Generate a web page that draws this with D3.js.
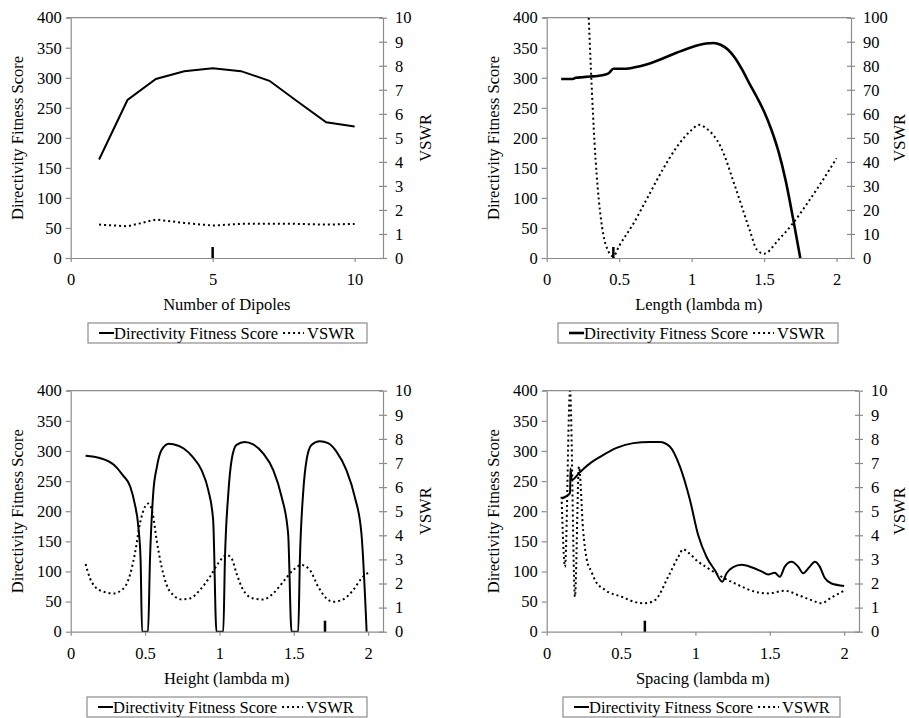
<!DOCTYPE html>
<html lang="en">
<head>
<meta charset="UTF-8">
<title>Directivity Fitness Score and VSWR</title>
<script src="https://cdnjs.cloudflare.com/ajax/libs/d3/7.8.5/d3.min.js"></script>
<style>
  body { margin: 0; background: #fff; }
  svg, svg text { font-family: "Liberation Serif", "DejaVu Serif", "Times New Roman", serif !important; fill: #000; }
  .axis path, .axis line { stroke: #8c8c8c; stroke-width: 1.2px; }
  .axis text { font-size: 16.5px; }
  .title { font-size: 16.5px; }
  .score { fill: none; stroke: #000; stroke-width: 2px; }
  .vswr { fill: none; stroke: #000; stroke-width: 2px; stroke-dasharray: 2, 3; }
  .frame { stroke: #8c8c8c; stroke-width: 1.2px; }
  .legend rect { fill: #fff; stroke: #8c8c8c; stroke-width: 1.2px; }
  .marker { stroke: #000; stroke-width: 2.5px; }
</style>
</head>
<body>
<svg id="chart" width="909" height="718"></svg>
<script>
// values
const dipoleCount = [1, 2, 3, 4, 5, 6, 7, 8, 9, 10];
const dipoleScore = [164, 263, 298, 311, 316, 311, 295, 260, 226, 219];
const dipoleVswr = [1.39, 1.32, 1.6, 1.46, 1.35, 1.42, 1.43, 1.42, 1.39, 1.42];

const lengthScoreX = [0.1, 0.15, 0.18, 0.2, 0.25, 0.3, 0.35, 0.4, 0.43, 0.46, 0.5, 0.55, 0.6, 0.7, 0.8, 0.9, 1.0, 1.1, 1.15, 1.2, 1.25, 1.3, 1.35, 1.4, 1.45, 1.5, 1.55, 1.6, 1.65, 1.7, 1.75];
const lengthScore = [298, 298, 298, 300, 301, 302, 303, 305, 308, 315, 315, 315, 317, 323, 332, 342, 351, 357, 358, 355, 347, 333, 313, 290, 268, 244, 214, 177, 128, 66, 0];
const lengthVswrX = [0.29, 0.31, 0.33, 0.36, 0.39, 0.42, 0.46, 0.5, 0.6, 0.7, 0.8, 0.9, 1.0, 1.05, 1.1, 1.2, 1.3, 1.4, 1.45, 1.5, 1.6, 1.7, 1.8, 1.9, 2.0];
const lengthVswr = [100, 72, 48, 24, 10, 3.5, 0.7, 5, 14.5, 25.6, 36.7, 46.4, 53.3, 55.4, 54, 46.4, 29.8, 11.8, 3.5, 1.8, 7.6, 14.5, 22.9, 31.9, 41.5];

const heightScoreX = [0.1, 0.2, 0.29, 0.35, 0.4, 0.43, 0.455, 0.47, 0.48,
  0.52, 0.533, 0.555, 0.58, 0.61, 0.66, 0.69, 0.76, 0.82, 0.88, 0.925, 0.958, 0.98,
  1.026, 1.037, 1.06, 1.082, 1.115, 1.17, 1.227, 1.294, 1.362, 1.418, 1.462, 1.485,
  1.53, 1.541, 1.563, 1.586, 1.619, 1.675, 1.731, 1.787, 1.854, 1.91, 1.955, 1.99];
const heightScore = [292, 288, 277, 260, 241, 213, 174, 119, 0,
  0, 119, 230, 274, 301, 312, 311, 304, 290, 268, 235, 185, 0,
  0, 119, 230, 285, 310, 315, 311, 296, 268, 224, 163, 0,
  0, 119, 230, 285, 310, 316, 313, 299, 268, 224, 163, 0];
const heightVswrX = [0.1, 0.13, 0.163, 0.22, 0.287, 0.343, 0.387, 0.432, 0.466, 0.5, 0.522, 0.551, 0.578, 0.611, 0.645, 0.69, 0.746, 0.802, 0.869, 0.936, 0.992, 1.048, 1.082, 1.115, 1.16, 1.227, 1.294, 1.362, 1.429, 1.496, 1.552, 1.608, 1.664, 1.72, 1.765, 1.832, 1.9, 1.955, 2.0];
const heightVswr = [2.81, 2.21, 1.87, 1.66, 1.59, 1.73, 2.14, 3.25, 4.5, 5.19, 5.32, 4.91, 3.8, 2.7, 1.94, 1.52, 1.34, 1.38, 1.73, 2.28, 2.84, 3.18, 3.04, 2.42, 1.73, 1.38, 1.34, 1.59, 2.07, 2.56, 2.77, 2.56, 1.87, 1.38, 1.24, 1.34, 1.73, 2.21, 2.45];

const spacingScoreX = [0.1, 0.157, 0.16, 0.168, 0.224, 0.3, 0.358, 0.47, 0.582, 0.694, 0.761, 0.829, 0.896, 0.963, 1.019, 1.075, 1.131, 1.18, 1.21, 1.254, 1.31, 1.377, 1.445, 1.489, 1.534, 1.568, 1.601, 1.646, 1.691, 1.724, 1.769, 1.803, 1.836, 1.87, 1.915, 2.0];
const spacingScore = [221, 230, 271, 252, 265, 281, 290, 305, 313, 315, 315, 307, 274, 219, 160, 124, 102, 83, 97, 107, 111, 107, 100, 95, 98, 91, 108, 116, 108, 97, 108, 116, 108, 89, 80, 76];
const spacingVswrX = [0.1, 0.123, 0.157, 0.19, 0.217, 0.245, 0.269, 0.3, 0.325, 0.392, 0.504, 0.616, 0.66, 0.728, 0.817, 0.885, 0.918, 0.952, 1.019, 1.086, 1.176, 1.288, 1.4, 1.489, 1.601, 1.691, 1.78, 1.848, 1.915, 2.0];
const spacingVswr = [5.6, 2.7, 10, 1.45, 6.85, 4.2, 3.0, 2.5, 2.14, 1.73, 1.45, 1.2, 1.18, 1.31, 2.28, 3.11, 3.42, 3.28, 2.9, 2.63, 2.28, 1.94, 1.66, 1.59, 1.7, 1.52, 1.31, 1.18, 1.42, 1.7];

// chosen design value marked on each x axis
const chosenValues = [5, 0.46, 1.71, 0.66];

const scoreTicks = d3.range(0, 401, 50);
const xTitles = ["Number of Dipoles", "Length (lambda m)", "Height (lambda m)", "Spacing (lambda m)"];
const leftTitle = "Directivity Fitness Score";
const rightTitle = "VSWR";
const legendLabels = ["Directivity Fitness Score", "VSWR"];

const zip = (xs, ys) => xs.map((x, i) => [x, ys[i]]);
const FONT = '"Liberation Serif", "DejaVu Serif", "Times New Roman", serif';

// layout of the four panels
const panels = [
  { left: 70.7, right: 383, top: 17.7, bottom: 258, xMax: 11, xTicks: [0, 5, 10], y2Max: 10,
    score: zip(dipoleCount, dipoleScore), vswr: zip(dipoleCount, dipoleVswr), curve: d3.curveLinear,
    legend: [88, 323, 279, 20], rightOff: 42, scoreWidth: 2 },
  { left: 546.7, right: 851, top: 17.7, bottom: 258, xMax: 2.1, xTicks: [0, 0.5, 1, 1.5, 2], y2Max: 100,
    score: zip(lengthScoreX, lengthScore), vswr: zip(lengthVswrX, lengthVswr), curve: d3.curveMonotoneX,
    legend: [558, 323, 280, 20], rightOff: 48, scoreWidth: 2.6 },
  { left: 70.7, right: 383, top: 390.7, bottom: 631.7, xMax: 2.1, xTicks: [0, 0.5, 1, 1.5, 2], y2Max: 10,
    score: zip(heightScoreX, heightScore), vswr: zip(heightVswrX, heightVswr), curve: d3.curveMonotoneX,
    legend: [87, 697, 280, 20], rightOff: 42, scoreWidth: 2 },
  { left: 546.7, right: 859, top: 390.7, bottom: 631.7, xMax: 2.1, xTicks: [0, 0.5, 1, 1.5, 2], y2Max: 10,
    score: zip(spacingScoreX, spacingScore), vswr: zip(spacingVswrX, spacingVswr), curve: d3.curveMonotoneX,
    legend: [563, 697, 277, 20], rightOff: 40, scoreWidth: 2 }
];

const svg = d3.select("#chart").style("font-family", FONT);

panels.forEach((p, i) => {
  const x = d3.scaleLinear().domain([0, p.xMax]).range([p.left, p.right]);
  const y = d3.scaleLinear().domain([0, 400]).range([p.bottom, p.top]);
  const y2 = d3.scaleLinear().domain([0, p.y2Max]).range([p.bottom, p.top]);

  const g = svg.append("g");

  g.append("clipPath").attr("id", "clip" + i)
    .append("rect")
    .attr("x", p.left).attr("y", p.top)
    .attr("width", p.right - p.left).attr("height", p.bottom - p.top);

  // top frame line
  g.append("line").attr("class", "frame")
    .attr("x1", p.left - 4).attr("x2", p.right)
    .attr("y1", y(400)).attr("y2", y(400));

  g.append("g").attr("class", "axis")
    .attr("transform", `translate(${p.left},0)`)
    .call(d3.axisLeft(y).tickValues(scoreTicks).tickSize(5).tickPadding(4).tickSizeOuter(0));

  const right = g.append("g").attr("class", "axis")
    .attr("transform", `translate(${p.right},0)`)
    .call(d3.axisRight(y2).ticks(10).tickSize(4).tickPadding(8).tickSizeOuter(0).tickFormat(d3.format("d")));
  right.selectAll(".tick line").attr("x1", -4);

  g.append("g").attr("class", "axis")
    .attr("transform", `translate(0,${p.bottom})`)
    .call(d3.axisBottom(x).tickValues(p.xTicks).tickSize(4).tickPadding(11.5).tickSizeOuter(0)
      .tickFormat(d3.format("~g")));

  g.selectAll(".axis").attr("font-family", FONT).attr("font-size", null);
  g.selectAll(".axis .domain").attr("stroke", "#8c8c8c");

  const clipped = g.append("g").attr("clip-path", `url(#clip${i})`);

  clipped.append("path").attr("class", "vswr")
    .attr("d", d3.line().x(d => x(d[0])).y(d => y2(d[1])).curve(p.curve)(p.vswr));

  clipped.append("path").attr("class", "score")
    .style("stroke-width", p.scoreWidth)
    .attr("d", d3.line().x(d => x(d[0])).y(d => y(d[1])).curve(p.curve)(p.score));

  g.append("line").attr("class", "marker")
    .attr("x1", x(chosenValues[i])).attr("x2", x(chosenValues[i]))
    .attr("y1", p.bottom).attr("y2", p.bottom - 11);

  // axis titles
  const midX = (p.left + p.right) / 2;
  const midY = (p.top + p.bottom) / 2;
  g.append("text").attr("class", "title")
    .attr("x", midX).attr("y", p.bottom + 52)
    .attr("text-anchor", "middle").text(xTitles[i]);
  g.append("text").attr("class", "title")
    .attr("transform", `translate(${p.left - 53},${midY}) rotate(-90)`)
    .attr("dy", "0.35em").attr("text-anchor", "middle").text(leftTitle);
  g.append("text").attr("class", "title")
    .attr("transform", `translate(${p.right + p.rightOff},${midY}) rotate(-90)`)
    .attr("dy", "0.35em").attr("text-anchor", "middle").text(rightTitle);

  // legend
  const [lx, ly, lw, lh] = p.legend;
  const leg = g.append("g").attr("class", "legend");
  leg.append("rect").attr("x", lx).attr("y", ly).attr("width", lw).attr("height", lh);
  const cy = ly + lh / 2;
  leg.append("line").attr("class", "score").style("stroke-width", p.scoreWidth)
    .attr("x1", lx + 11).attr("x2", lx + 26).attr("y1", cy).attr("y2", cy);
  const t1 = leg.append("text").attr("class", "title")
    .attr("x", lx + 26).attr("y", ly + 15.5).text(legendLabels[0]);
  const after = lx + 26 + t1.node().getComputedTextLength();
  leg.append("line").attr("class", "vswr")
    .attr("x1", after + 5).attr("x2", after + 26).attr("y1", cy).attr("y2", cy);
  leg.append("text").attr("class", "title")
    .attr("x", after + 29).attr("y", ly + 15.5).text(legendLabels[1]);
});

svg.selectAll("text").style("font-family", FONT);
</script>
</body>
</html>
